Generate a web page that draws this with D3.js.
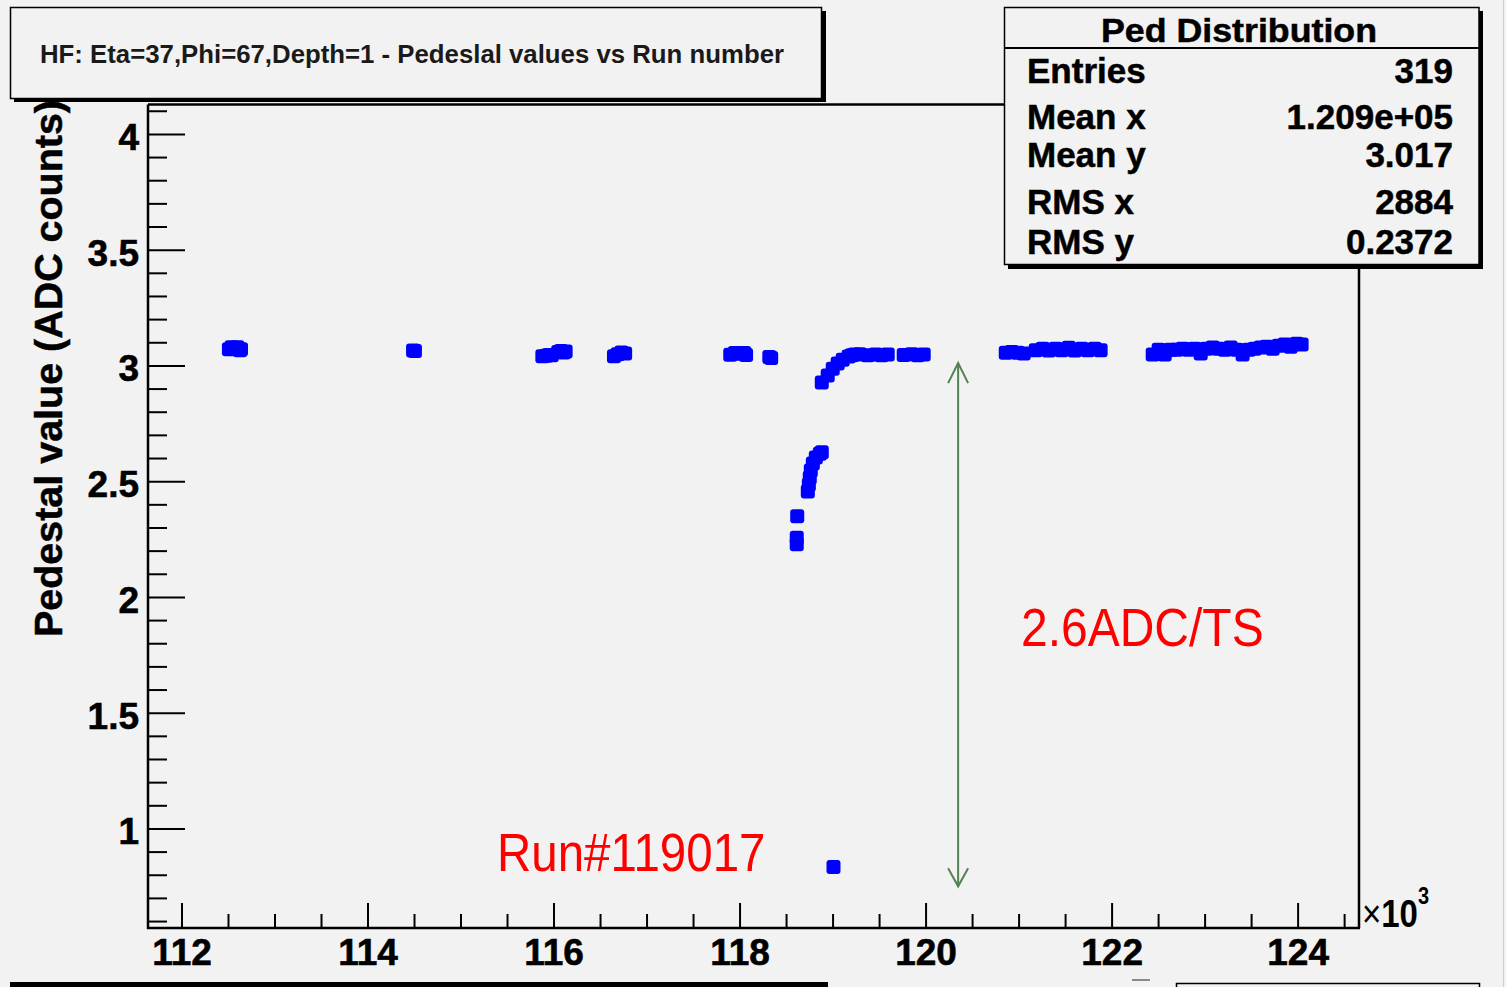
<!DOCTYPE html>
<html>
<head>
<meta charset="utf-8">
<script src="https://cdn.jsdelivr.net/npm/d3@7"></script>
<style>
  body { margin: 0; background: #f2f2f2; }
  svg { display: block; }
  text { font-family: "Liberation Sans", Arial, Helvetica, sans-serif; }
</style>
</head>
<body>
<svg id="chart" width="1506" height="987"></svg>
<script>
// ---- data (run number in units of 10^3, pedestal in ADC counts) ----
const runNumbers = [
  112.51, 112.54, 112.57, 112.60, 112.63, 112.64,
  114.49, 114.51,
  115.88, 115.92, 115.95, 115.98, 116.05, 116.08, 116.11, 116.13,
  116.65, 116.69, 116.73, 116.77,
  117.90, 117.95, 118.00, 118.05, 118.07,
  118.32, 118.34,
  118.615, 118.615, 118.62,
  118.734, 118.745, 118.755, 118.766, 118.788, 118.820, 118.863, 118.884,
  118.884, 118.948, 119.002, 119.055, 119.109, 119.173, 119.238,
  119.206, 119.292, 119.378, 119.464, 119.528, 119.593,
  119.765, 119.851, 119.916, 119.980,
  119.01,
  120.862, 120.926, 120.991, 121.055,
  121.184, 121.259, 121.324, 121.399, 121.463, 121.539, 121.603, 121.678, 121.743, 121.818, 121.882,
  122.442, 122.506, 122.571, 122.635, 122.700, 122.764, 122.829, 122.893, 122.958, 123.022,
  123.087, 123.151, 123.216, 123.280, 123.345, 123.409, 123.474, 123.538, 123.603, 123.667,
  123.732, 123.796, 123.861, 123.925, 123.990, 124.043
];
const pedestals = [
  3.070, 3.078, 3.072, 3.078, 3.066, 3.070,
  3.064, 3.062,
  3.040, 3.042, 3.045, 3.044, 3.058, 3.062, 3.056, 3.060,
  3.040, 3.048, 3.056, 3.052,
  3.046, 3.054, 3.050, 3.054, 3.045,
  3.036, 3.032,
  2.228, 2.256, 2.348,
  2.455, 2.485, 2.515, 2.546, 2.576, 2.602, 2.619, 2.625,
  2.926, 2.956, 2.986, 3.008, 3.025, 3.038, 3.047,
  3.044, 3.048, 3.044, 3.047, 3.044, 3.047,
  3.045, 3.048, 3.044, 3.047,
  0.833,
  3.055, 3.058, 3.055, 3.052,
  3.066, 3.072, 3.064, 3.072, 3.066, 3.076, 3.064, 3.072, 3.066, 3.072, 3.066,
  3.047, 3.068, 3.047, 3.068, 3.068, 3.072, 3.068, 3.072, 3.051, 3.072,
  3.077, 3.072, 3.068, 3.077, 3.068, 3.047, 3.068, 3.072, 3.077, 3.081,
  3.072, 3.085, 3.090, 3.081, 3.094, 3.090
];
const xTickValues = [112, 114, 116, 118, 120, 122, 124];
const xTickLabels = ["112", "114", "116", "118", "120", "122", "124"];
const yTickValues = [1, 1.5, 2, 2.5, 3, 3.5, 4];
const yTickLabels = ["1", "1.5", "2", "2.5", "3", "3.5", "4"];
const statLabels = ["Entries", "Mean x", "Mean y", "RMS x", "RMS y"];
const statValues = ["319", "1.209e+05", "3.017", "2884", "0.2372"];
const titleText = "HF: Eta=37,Phi=67,Depth=1 - Pedeslal values vs Run number";
const statsTitle = "Ped Distribution";
const yAxisTitle = "Pedestal value (ADC counts)";
const annotationRun = "Run#119017";
const annotationStep = "2.6ADC/TS";
const arrowFrom = 0.75;   // pedestal units
const arrowTo = 3.01;
const arrowRun = 120.35;

// ---- layout ----
const svg = d3.select("#chart");
const L = 148, R = 1359, T = 104.5, B = 928;
const x = d3.scaleLinear().domain([111.64, 124.66]).range([L, R]);
const y = d3.scaleLinear().domain([0.57, 4.127]).range([B, T]);

svg.append("rect").attr("width", 1506).attr("height", 987).attr("fill", "#f2f2f2");
svg.append("line").attr("x1", 1503.5).attr("x2", 1503.5).attr("y1", 0).attr("y2", 987)
  .attr("stroke", "#cfcfcf").attr("stroke-width", 1);

// frame
const frame = svg.append("g").attr("stroke", "#000").attr("stroke-width", 2.5).attr("fill", "none");
frame.append("line").attr("x1", L).attr("x2", R).attr("y1", T).attr("y2", T);
frame.append("line").attr("x1", R).attr("x2", R).attr("y1", T).attr("y2", B);

// minor ticks
const yMinor = d3.range(6, 42).filter(i => i % 5 !== 0).map(i => i / 10);
const xMinor = d3.range(224, 250).filter(i => i % 4 !== 0).map(i => i / 2);

const gyMinor = svg.append("g").attr("transform", `translate(${L},0)`)
  .call(d3.axisLeft(y).tickValues(yMinor).tickSizeInner(-19).tickSizeOuter(0).tickFormat(""));
const gy = svg.append("g").attr("transform", `translate(${L},0)`)
  .call(d3.axisLeft(y).tickValues(yTickValues).tickSizeInner(-37).tickSizeOuter(0).tickPadding(9)
    .tickFormat((d, i) => yTickLabels[i]));
const gxMinor = svg.append("g").attr("transform", `translate(0,${B})`)
  .call(d3.axisBottom(x).tickValues(xMinor).tickSizeInner(-14).tickSizeOuter(0).tickFormat(""));
const gx = svg.append("g").attr("transform", `translate(0,${B})`)
  .call(d3.axisBottom(x).tickValues(xTickValues).tickSizeInner(-25).tickSizeOuter(0).tickPadding(11)
    .tickFormat((d, i) => xTickLabels[i]));

[gyMinor, gy, gxMinor, gx].forEach(g => {
  g.select(".domain").remove();
  g.selectAll(".tick line").attr("stroke", "#000").attr("stroke-width", 2);
  g.selectAll("text").style("font-size", "37px").style("font-weight", "bold")
    .style("font-family", '"Liberation Sans", Arial, sans-serif').attr("fill", "#000")
    .attr("stroke", "#000").attr("stroke-width", 0.6);
});
gy.selectAll("text").attr("dy", "0.42em");

// axis lines
frame.append("line").attr("x1", L).attr("x2", L).attr("y1", T).attr("y2", B + 1);
frame.append("line").attr("x1", L - 1).attr("x2", R + 1).attr("y1", B).attr("y2", B);

// ×10^3
const mult = svg.append("text").attr("transform", "translate(1362,927) scale(1,1.2)")
  .style("font-size", "33px").attr("fill", "#000");
mult.append("tspan").text("×");
mult.append("tspan").style("font-weight", "bold").text("10");
mult.append("tspan").attr("dy", -19).style("font-size", "20px").style("font-weight", "bold").text("3");

// y axis title
svg.append("text").attr("transform", "translate(62,368.5) rotate(-90)")
  .attr("text-anchor", "middle").style("font-size", "39.5px").style("font-weight", "bold")
  .attr("textLength", 537).attr("lengthAdjust", "spacingAndGlyphs").attr("fill", "#000")
  .attr("stroke", "#000").attr("stroke-width", 0.5)
  .text(yAxisTitle);

// data markers
const pts = runNumbers.map((r, i) => ({ r, p: pedestals[i] }));
svg.append("g").selectAll("rect").data(pts).join("rect")
  .attr("x", d => x(d.r) - 7).attr("y", d => y(d.p) - 7)
  .attr("width", 14).attr("height", 14).attr("rx", 3)
  .attr("fill", "#0000ff");

// green double arrow
const ax = x(arrowRun);
const arrow = svg.append("g").attr("stroke", "#548254").attr("stroke-width", 2).attr("fill", "none");
arrow.append("line").attr("x1", ax).attr("x2", ax).attr("y1", y(arrowTo)).attr("y2", y(arrowFrom));
arrow.append("path").attr("d", `M${ax - 10},${y(arrowTo) + 20} L${ax},${y(arrowTo)} L${ax + 10},${y(arrowTo) + 20}`);
arrow.append("path").attr("d", `M${ax - 10},${y(arrowFrom) - 18} L${ax},${y(arrowFrom)} L${ax + 10},${y(arrowFrom) - 18}`);

// red annotations
svg.append("text").attr("transform", "translate(1021,646) scale(1,1.1)")
  .style("font-size", "48px").attr("fill", "#ff0000").text(annotationStep);
svg.append("text").attr("transform", "translate(497,871) scale(1,1.12)")
  .style("font-size", "47.5px").attr("fill", "#ff0000").text(annotationRun);

// title box
svg.append("rect").attr("x", 14).attr("y", 11).attr("width", 812).attr("height", 91).attr("fill", "#000");
svg.append("rect").attr("x", 10.5).attr("y", 7.5).attr("width", 811).attr("height", 91)
  .attr("fill", "#f2f2f2").attr("stroke", "#000").attr("stroke-width", 1.5);
svg.append("text").attr("x", 40).attr("y", 63).style("font-size", "25px").style("font-weight", "bold")
  .attr("textLength", 744).attr("lengthAdjust", "spacingAndGlyphs").attr("fill", "#1a1a1a").text(titleText);

// stats box
svg.append("rect").attr("x", 1008).attr("y", 11).attr("width", 475).attr("height", 258).attr("fill", "#000");
svg.append("rect").attr("x", 1004.5).attr("y", 7.5).attr("width", 474.5).attr("height", 257)
  .attr("fill", "#f2f2f2").attr("stroke", "#000").attr("stroke-width", 1.5);
svg.append("line").attr("x1", 1004.5).attr("x2", 1479).attr("y1", 48).attr("y2", 48)
  .attr("stroke", "#000").attr("stroke-width", 2);
svg.append("text").attr("x", 1101).attr("y", 42)
  .style("font-size", "33px").style("font-weight", "bold").attr("fill", "#000")
  .attr("stroke", "#000").attr("stroke-width", 0.5)
  .attr("textLength", 276).attr("lengthAdjust", "spacingAndGlyphs").text(statsTitle);
const rowY = [83, 128.5, 166.5, 213.5, 253.5];
statLabels.forEach((s, i) => {
  svg.append("text").attr("x", 1027).attr("y", rowY[i]).style("font-size", "35px")
    .style("font-weight", "bold").attr("fill", "#000").attr("stroke", "#000").attr("stroke-width", 0.5).text(s);
  svg.append("text").attr("x", 1453).attr("y", rowY[i]).attr("text-anchor", "end")
    .style("font-size", "35px").style("font-weight", "bold").attr("fill", "#000")
    .attr("stroke", "#000").attr("stroke-width", 0.5).text(statValues[i]);
});

// bottom edge fragments
svg.append("rect").attr("x", 10).attr("y", 982).attr("width", 818).attr("height", 5).attr("fill", "#000");
svg.append("rect").attr("x", 1176.5).attr("y", 983.5).attr("width", 303).attr("height", 20)
  .attr("fill", "#f2f2f2").attr("stroke", "#000").attr("stroke-width", 1.5);
svg.append("line").attr("x1", 1132).attr("x2", 1150).attr("y1", 980).attr("y2", 980)
  .attr("stroke", "#666").attr("stroke-width", 1.5);
</script>
</body>
</html>
